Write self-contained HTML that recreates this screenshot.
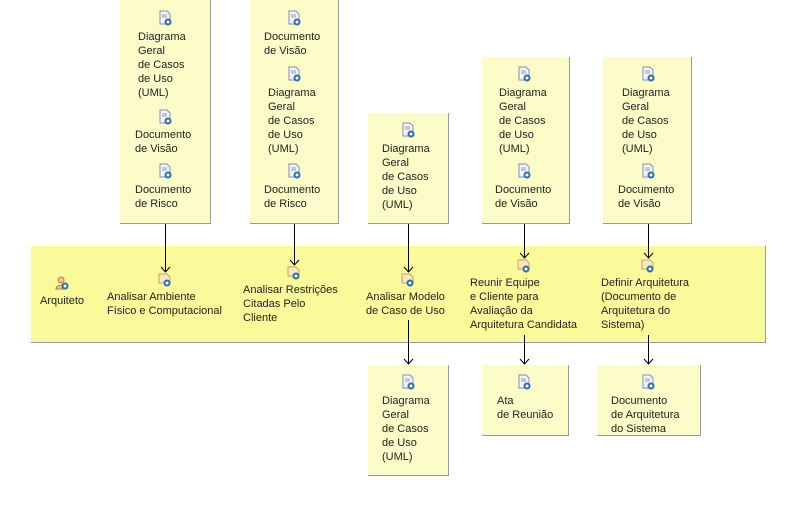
<!DOCTYPE html>
<html><head><meta charset="utf-8"><style>
body{margin:0;width:786px;height:519px;background:#fff;position:relative;overflow:hidden;font-family:"Liberation Sans",sans-serif;font-size:11px;color:#222}
.b{position:absolute;background:#fcfcc8;border-right:1px solid #999;border-bottom:1px solid #999}
.t{position:absolute;line-height:14px;white-space:nowrap}
</style></head><body>
<svg width="0" height="0" style="position:absolute"><defs>
<g id="doc"><path d="M3 1h7l3 3v10H3z" fill="#f4f4ff" stroke="#8090b0"/><line x1="5" y1="5" x2="10" y2="5" stroke="#99a"/><line x1="5" y1="7" x2="10" y2="7" stroke="#99a"/><circle cx="11" cy="12" r="3.5" fill="#2a6fa8"/><circle cx="11" cy="12" r="1.5" fill="#fff"/></g>
<g id="act"><path d="M2 3h8l3 3v6H2z" fill="#fae8c0" stroke="#c8a060"/><circle cx="10" cy="12" r="3.5" fill="#2a6fa8"/><circle cx="10" cy="12" r="1.5" fill="#fff"/></g>
<g id="per"><circle cx="7" cy="5" r="3" fill="#f0c890" stroke="#b08040"/><path d="M2 14c0-5 10-5 10 0z" fill="#f0c890" stroke="#b08040"/><circle cx="11" cy="11" r="3.5" fill="#2a6fa8"/><circle cx="11" cy="11" r="1.5" fill="#fff"/></g>
</defs></svg>

<div style="position:absolute;left:31px;top:246px;width:734px;height:96px;background:#fafa9a;border-right:1px solid #999;border-bottom:1px solid #999"></div>

<div class="b" style="left:120px;top:0;width:90px;height:223px"></div>
<div class="b" style="left:250px;top:0;width:88px;height:223px"></div>
<div class="b" style="left:368px;top:113px;width:80px;height:110px"></div>
<div class="b" style="left:482px;top:57px;width:87px;height:166px"></div>
<div class="b" style="left:603px;top:57px;width:88px;height:166px"></div>
<div class="b" style="left:368px;top:365px;width:80px;height:110px"></div>
<div class="b" style="left:482px;top:365px;width:86px;height:70px"></div>
<div class="b" style="left:597px;top:365px;width:103px;height:70px"></div>

<svg style="position:absolute;left:0;top:0" width="786" height="519">
<use href="#doc" x="157" y="10"/><use href="#doc" x="157" y="109"/><use href="#doc" x="157" y="163"/>
<use href="#doc" x="286" y="10"/><use href="#doc" x="286" y="66"/><use href="#doc" x="286" y="163"/>
<use href="#doc" x="400" y="122"/>
<use href="#doc" x="516" y="66"/><use href="#doc" x="516" y="163"/>
<use href="#doc" x="640" y="66"/><use href="#doc" x="640" y="163"/>
<use href="#doc" x="400" y="374"/><use href="#doc" x="516" y="374"/><use href="#doc" x="640" y="374"/>
<use href="#per" x="54" y="275"/>
<use href="#act" x="157" y="271"/><use href="#act" x="286" y="264"/><use href="#act" x="400" y="271"/>
<use href="#act" x="516" y="257"/><use href="#act" x="640" y="257"/>
<g stroke="#000" fill="none">
<line x1="165.5" y1="224" x2="165.5" y2="272"/><polyline points="161,267 165.5,272 170,267"/>
<line x1="294.5" y1="224" x2="294.5" y2="265"/><polyline points="290,260 294.5,265 299,260"/>
<line x1="408.5" y1="224" x2="408.5" y2="272"/><polyline points="404,267 408.5,272 413,267"/>
<line x1="524.5" y1="224" x2="524.5" y2="258"/><polyline points="520,253 524.5,258 529,253"/>
<line x1="648.5" y1="224" x2="648.5" y2="258"/><polyline points="644,253 648.5,258 653,253"/>
<line x1="408.5" y1="320" x2="408.5" y2="364"/><polyline points="404,359 408.5,364 413,359"/>
<line x1="524.5" y1="335" x2="524.5" y2="364"/><polyline points="520,359 524.5,364 529,359"/>
<line x1="648.5" y1="335" x2="648.5" y2="364"/><polyline points="644,359 648.5,364 653,359"/>
</g>
</svg>

<div class="t" style="left:138px;top:30px">Diagrama<br>Geral<br>de Casos<br>de Uso<br>(UML)</div>
<div class="t" style="left:135px;top:128px">Documento<br>de Visão</div>
<div class="t" style="left:135px;top:183px">Documento<br>de Risco</div>

<div class="t" style="left:264px;top:30px">Documento<br>de Visão</div>
<div class="t" style="left:268px;top:86px">Diagrama<br>Geral<br>de Casos<br>de Uso<br>(UML)</div>
<div class="t" style="left:264px;top:183px">Documento<br>de Risco</div>

<div class="t" style="left:382px;top:142px">Diagrama<br>Geral<br>de Casos<br>de Uso<br>(UML)</div>

<div class="t" style="left:499px;top:86px">Diagrama<br>Geral<br>de Casos<br>de Uso<br>(UML)</div>
<div class="t" style="left:495px;top:183px">Documento<br>de Visão</div>

<div class="t" style="left:622px;top:86px">Diagrama<br>Geral<br>de Casos<br>de Uso<br>(UML)</div>
<div class="t" style="left:618px;top:183px">Documento<br>de Visão</div>

<div class="t" style="left:40px;top:294px">Arquiteto</div>
<div class="t" style="left:107px;top:290px">Analisar Ambiente<br>Físico e Computacional</div>
<div class="t" style="left:243px;top:283px">Analisar Restrições<br>Citadas Pelo<br>Cliente</div>
<div class="t" style="left:366px;top:290px">Analisar Modelo<br>de Caso de Uso</div>
<div class="t" style="left:470px;top:276px">Reunir Equipe<br>e Cliente para<br>Avaliação da<br>Arquitetura Candidata</div>
<div class="t" style="left:601px;top:276px">Definir Arquitetura<br>(Documento de<br>Arquitetura do<br>Sistema)</div>

<div class="t" style="left:382px;top:394px">Diagrama<br>Geral<br>de Casos<br>de Uso<br>(UML)</div>
<div class="t" style="left:497px;top:394px">Ata<br>de Reunião</div>
<div class="t" style="left:611px;top:394px">Documento<br>de Arquitetura<br>do Sistema</div>
</body></html>
